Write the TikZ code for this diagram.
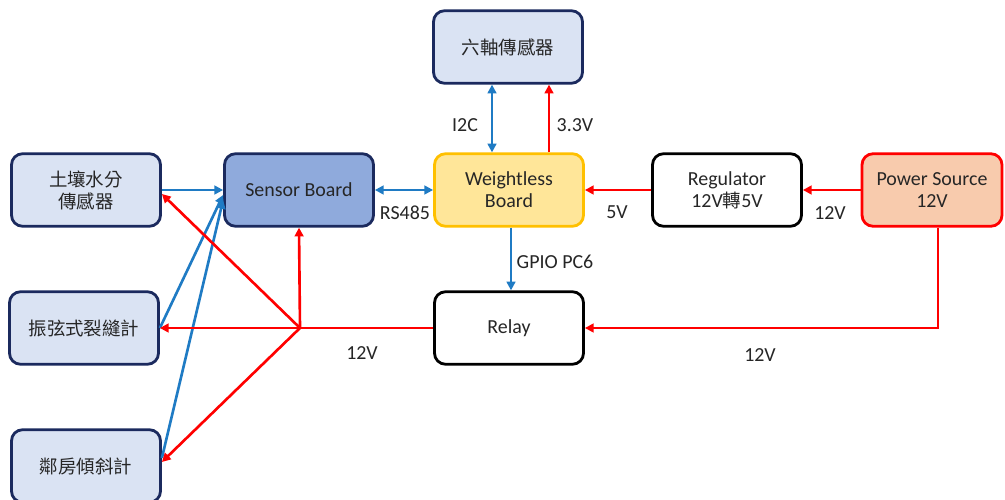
\documentclass[tikz,border=0pt]{standalone}
\usepackage{fontspec}
\setmainfont{Carlito}[Scale=1.08]
\newfontfamily\cjk{Noto Sans CJK TC}
\usetikzlibrary{arrows.meta,calc}
\definecolor{navy}{HTML}{1B2A5E}
\definecolor{lightblue}{HTML}{DAE3F3}
\definecolor{midblue}{HTML}{8FAADC}
\definecolor{lnblue}{HTML}{1F7BC4}
\definecolor{lnred}{HTML}{FF0000}
\definecolor{ylfill}{HTML}{FFE699}
\definecolor{ylborder}{HTML}{FFC000}
\definecolor{orfill}{HTML}{F8CBAD}
\definecolor{txt}{HTML}{262626}
\begin{document}
\begin{tikzpicture}[x=0.02cm,y=-0.02cm,
  box/.style={draw, rounded corners=0.22cm, line width=1.6pt, minimum width=2.98cm, minimum height=1.45cm, align=center, text=txt, font=\fontsize{10.5}{12.5}\selectfont, inner sep=0pt},
  lbl/.style={text=txt, font=\fontsize{10.5}{12.5}\selectfont},
  bline/.style={draw=lnblue, line width=1.5pt},
  rline/.style={draw=lnred, line width=1.5pt},
  arr/.style={-{Triangle[length=5pt,width=5pt]}},
  darr/.style={{Triangle[length=5pt,width=5pt]}-{Triangle[length=5pt,width=5pt]}}]
\useasboundingbox (0,0) rectangle (1005,500);
\clip (0,0) rectangle (1005,500);
\fill[white] (0,0) rectangle (1005,500);

\node[box, draw=navy, fill=lightblue] (soil) at (86,190) {{\cjk 土壤水分}\\{\cjk 傳感器}};
\node[box, draw=navy, fill=lightblue] (vw) at (84,328) {\cjk 振弦式裂縫計};
\node[box, draw=navy, fill=lightblue] (tilt) at (86,466) {\cjk 鄰房傾斜計};
\node[box, draw=navy, fill=midblue] (sb) at (299,190) {Sensor Board};
\node[box, draw=ylborder, fill=ylfill] (wb) at (509,190) {Weightless\\Board};
\node[box, draw=navy, fill=lightblue] (six) at (508,47) {\cjk 六軸傳感器};
\node[box, draw=black, fill=white] (relay) at (509,328) {Relay};
\node[box, draw=black, fill=white] (reg) at (727,190) {Regulator\\12V{\cjk 轉}5V};
\node[box, draw=lnred, fill=orfill, minimum width=2.8cm] (ps) at (932,190) {Power Source\\12V};

% blue data lines
\draw[bline, darr] (sb.east) -- (wb.west);
\node[lbl] (l485) at (405,213) {RS485};
\draw[bline, arr] (soil.east) -- (sb.west);
\draw[bline, arr] (vw.east) -- ($(sb.west)+(0,5)$);
\draw[bline, arr] ($(tilt.east)+(0,-8)$) -- ($(sb.west)+(0,10)$);
\draw[bline, darr] ($(six.south)+(-16,0)$) -- ($(wb.north)+(-17,0)$);
\node[lbl] (li2c) at (465,125) {I2C};
\draw[bline, arr] ($(wb.south)+(2,0)$) -- ($(relay.north)+(2,0)$);
\node[lbl] (lgpio) at (555,262) {GPIO PC6};

% red power lines
\coordinate (j) at (300,328);
\draw[rline] (relay.west) -- (j);
\draw[rline, arr] (j) -- (sb.south);
\draw[rline, arr] (j) -- ($(soil.east)+(0,4)$);
\draw[rline, arr] (j) -- (vw.east);
\draw[rline, arr] (j) -- ($(tilt.east)+(0,-4)$);
\node[lbl] (l12a) at (362,353) {12V};
\draw[rline, arr] ($(ps.south)+(6,0)$) |- (relay.east);
\node[lbl] (l12b) at (760,355) {12V};
\draw[rline, arr] (ps.west) -- (reg.east);
\node[lbl] (l12c) at (830,213) {12V};
\draw[rline, arr] (reg.west) -- (wb.east);
\node[lbl] (l5v) at (617,212) {5V};
\draw[rline, arr] ($(wb.north)+(40,0)$) -- ($(six.south)+(41,0)$);
\node[lbl] (l33) at (575,125) {3.3V};
\end{tikzpicture}
\end{document}
